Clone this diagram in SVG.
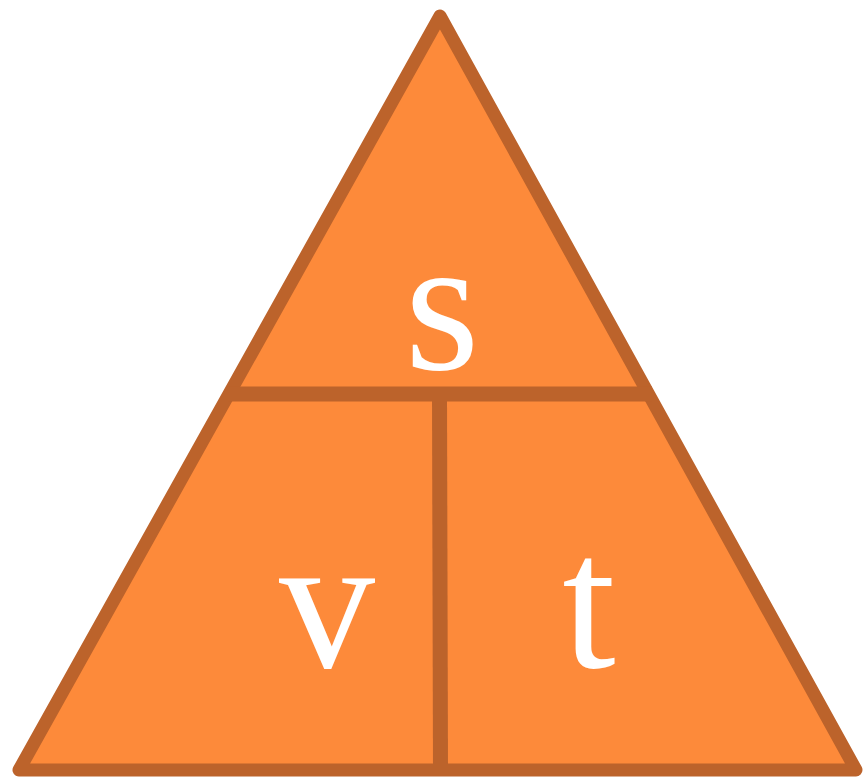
<svg xmlns="http://www.w3.org/2000/svg" width="863" height="780" viewBox="0 0 863 780">
<style>
.edge{fill:none;stroke:#BC632B;stroke-width:15;stroke-linejoin:round;stroke-linecap:butt}
.lbl{font-family:"Liberation Serif","Times New Roman",serif;font-size:192px;fill:#FFFFFF;text-anchor:middle}
</style>
<g id="triangle">
<polygon points="440,16 19,770 856,770" fill="#FD8A3A" stroke="#BC632B" stroke-width="13" stroke-linejoin="round"/>
</g>
<g id="connectors">
<line class="edge" x1="228" y1="394" x2="652" y2="394"/>
<line class="edge" x1="439.5" y1="394" x2="440.5" y2="770"/>
</g>
<g id="node-s"><text class="lbl" x="442" y="369">s</text></g>
<g id="node-v"><text class="lbl" x="327" y="667">v</text></g>
<g id="node-t"><text class="lbl" x="589" y="667">t</text></g>
</svg>
